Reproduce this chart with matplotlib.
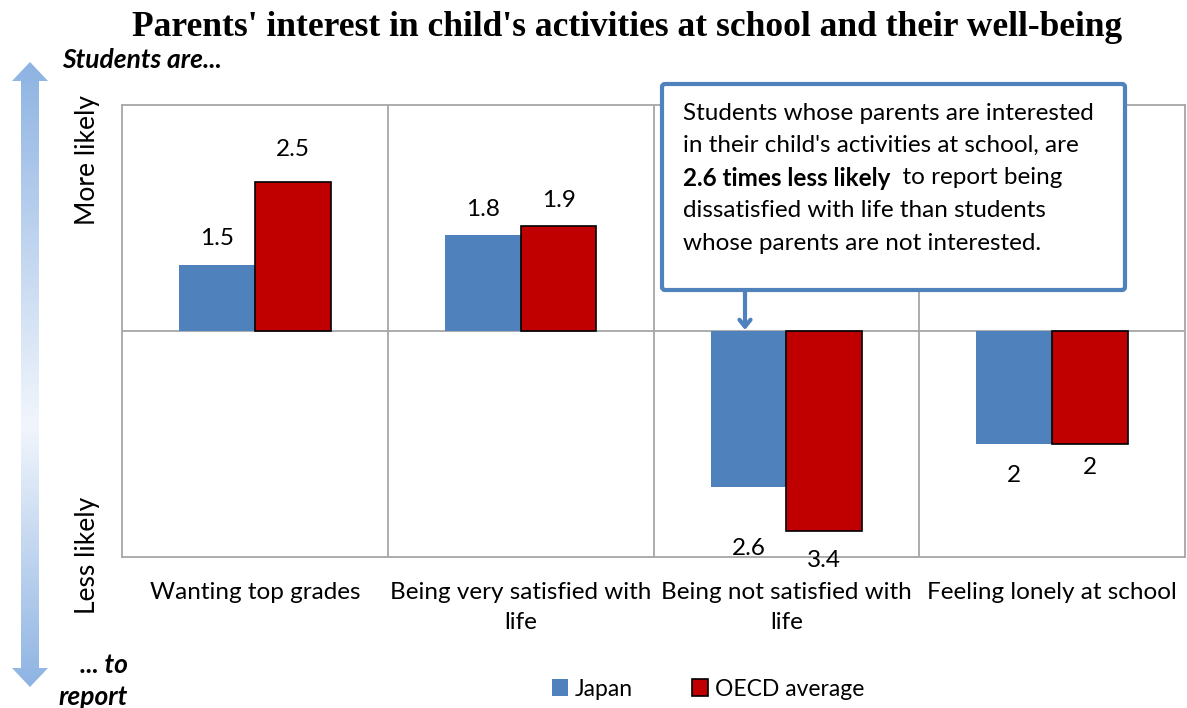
import numpy as np
import matplotlib
matplotlib.use("Agg")
import matplotlib.pyplot as plt
from matplotlib.patches import Polygon, FancyBboxPatch, Patch
from matplotlib.colors import LinearSegmentedColormap

# ---- data -------------------------------------------------------------
categories = ["Wanting top grades", "Being very satisfied with\nlife",
              "Being not satisfied with\nlife", "Feeling lonely at school"]
# +1: students are more likely to report it, -1: less likely
direction = [1, 1, -1, -1]
japan = [1.5, 1.8, 2.6, 2.0]
oecd = [2.5, 1.9, 3.4, 2.0]
series_names = ["Japan", "OECD average"]

JP_COLOR = "#4F81BD"
OECD_COLOR = "#C00000"
GRID = "#A6A6A6"
FONT = "Lato"
FS = 17.5

W, H = 1187, 708
fig = plt.figure(figsize=(W / 100, H / 100), dpi=100)

# ---- main bar chart (odds ratios on a log scale around 1) -------------
ax = fig.add_axes([122 / W, 1 - 557 / H, (1185 - 122) / W, (557 - 105) / H])
ax.set_yscale("log")
ax.set_ylim(0.25, 4)
ax.set_xlim(-0.5, len(categories) - 0.5)

x = np.arange(len(categories))
bw = 0.285
jp_plot = [v if d > 0 else 1 / v for v, d in zip(japan, direction)]
oe_plot = [v if d > 0 else 1 / v for v, d in zip(oecd, direction)]

ax.bar(x - bw / 2, [p - 1 for p in jp_plot], bottom=1, width=bw,
       color=JP_COLOR, edgecolor="none", zorder=3)
ax.bar(x + bw / 2, [p - 1 for p in oe_plot], bottom=1, width=bw,
       color=OECD_COLOR, edgecolor="black", linewidth=1.2, zorder=3)

# value labels
def put_labels(xs, vals, plots, nudge):
    for xi, v, p, extra in zip(xs, vals, plots, nudge):
        off = 20 + extra
        if p >= 1:
            ax.annotate(f"{v:g}", (xi, p), xytext=(0, off), textcoords="offset pixels",
                        ha="center", va="center", fontsize=FS, family=FONT)
        else:
            ax.annotate(f"{v:g}", (xi, p), xytext=(0, -off - 2), textcoords="offset pixels",
                        ha="center", va="center", fontsize=FS, family=FONT)

put_labels(x - bw / 2, japan, jp_plot, [6, 6, 40, 10])
put_labels(x + bw / 2, oecd, oe_plot, [12, 6, 8, 2])

# frame and separators
for xs in x[:-1] + 0.5:
    ax.axvline(xs, color=GRID, lw=1.3, zorder=1)
ax.axhline(1, color=GRID, lw=1.3, zorder=2)
for s in ax.spines.values():
    s.set_color(GRID)
    s.set_linewidth(1.3)

ax.set_yticks([])
ax.yaxis.set_minor_locator(matplotlib.ticker.NullLocator())
ax.set_xticks(x)
ax.set_xticklabels(categories, fontsize=FS, family=FONT, linespacing=1.55)
ax.tick_params(axis="x", length=0, pad=18)

# ---- overlay in pixel coordinates for decorations ---------------------
ov = fig.add_axes([0, 0, 1, 1], zorder=5)
ov.set_xlim(0, W)
ov.set_ylim(H, 0)
ov.axis("off")
ov.patch.set_visible(False)

# gradient double arrow on the left
arrow_pts = [(30, 62), (48, 81), (39, 81), (39, 668), (48, 668), (30, 687),
             (12, 668), (21, 668), (21, 81), (12, 81)]
cmap = LinearSegmentedColormap.from_list(
    "arrow", [(0.0, "#8DB3E2"), (0.58, "#F2F6FC"), (1.0, "#8DB3E2")])
grad = np.linspace(0, 1, 300).reshape(-1, 1)
im = ov.imshow(grad, cmap=cmap, extent=(10, 50, 690, 60), aspect="auto",
               interpolation="bilinear", origin="upper")
clip = Polygon(arrow_pts, closed=True, transform=ov.transData)
im.set_clip_path(clip)

ov.text(62, 60, "Students are...", fontsize=19, family=FONT, weight="bold",
        style="italic", ha="left", va="center")
ov.text(128, 665, "... to", fontsize=19, family=FONT, weight="bold",
        style="italic", ha="right", va="center")
ov.text(128, 697, "report", fontsize=19, family=FONT, weight="bold",
        style="italic", ha="right", va="center")
ov.text(88, 160, "More likely", fontsize=19, family=FONT, rotation=90,
        ha="center", va="center")
ov.text(88, 555, "Less likely", fontsize=19, family=FONT, rotation=90,
        ha="center", va="center")

# title
ov.text(627, 27, "Parents' interest in child's activities at school and their well-being",
        fontsize=25.5, family="Liberation Serif", weight="bold", ha="center", va="center")

# callout box
box = FancyBboxPatch((662, 84), 1125 - 662, 290 - 84,
                     boxstyle="round,pad=0,rounding_size=3",
                     facecolor="white", edgecolor="#4F81BD", lw=3)
ov.add_patch(box)
ov.annotate("", xy=(745, 330), xytext=(745, 291),
            arrowprops=dict(arrowstyle="->,head_length=0.5,head_width=0.4",
                            color="#4F81BD", lw=3, shrinkA=0, shrinkB=0))
tx = 683
lines_y = [113, 145.5, 178, 210.5, 243]
ov.text(tx, lines_y[0], "Students whose parents are interested", fontsize=FS,
        family=FONT, ha="left", va="center")
ov.text(tx, lines_y[1], "in their child's activities at school, are", fontsize=FS,
        family=FONT, ha="left", va="center")
bold = ov.text(tx, lines_y[2], "2.6 times less likely", fontsize=FS, family=FONT,
               weight="bold", ha="left", va="center")
ov.annotate("  to report being", xy=(1, 0.5), xycoords=bold, fontsize=FS,
            family=FONT, ha="left", va="center")
ov.text(tx, lines_y[3], "dissatisfied with life than students", fontsize=FS,
        family=FONT, ha="left", va="center")
ov.text(tx, lines_y[4], "whose parents are not interested.", fontsize=FS,
        family=FONT, ha="left", va="center")

# legend
handles = [Patch(facecolor=JP_COLOR, edgecolor="none"),
           Patch(facecolor=OECD_COLOR, edgecolor="black", lw=1.2)]
fig.legend(handles, series_names, loc="center", bbox_to_anchor=(708 / W, 1 - 689 / H),
           ncol=2, frameon=False, prop={"family": FONT, "size": 16.5},
           handlelength=0.7, handleheight=0.7, handletextpad=0.3, columnspacing=2.6)

fig.savefig("out.png", dpi=100)
